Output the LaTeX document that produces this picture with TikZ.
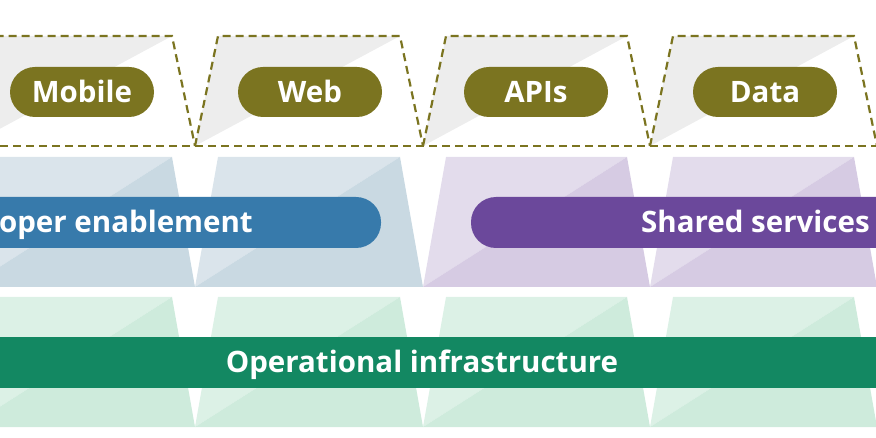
\documentclass[tikz,border=0pt]{standalone}
\usepackage{fontspec}
\setmainfont{Open Sans}
\begin{document}
\begin{tikzpicture}[x=1pt,y=-1pt,
  olivec/.style={draw=olive1,line width=2.2pt,dash pattern=on 8pt off 5pt},
  pilltxt/.style={text=white,font=\bfseries\fontsize{29.5}{29.5}\selectfont,inner sep=0pt},
  pill/.style={fill=olive1,rounded corners=25pt}]
\definecolor{olive1}{HTML}{7B7420}
\definecolor{gray1}{HTML}{EDEDED}
\definecolor{bluelt}{HTML}{DAE4EB}
\definecolor{bluedk}{HTML}{C9D9E2}
\definecolor{purlt}{HTML}{E3DCEC}
\definecolor{purdk}{HTML}{D6CBE3}
\definecolor{grnlt}{HTML}{DCF1E6}
\definecolor{grndk}{HTML}{CEEBDC}
\definecolor{bluepill}{HTML}{377AAB}
\definecolor{purpill}{HTML}{6B489B}
\definecolor{grnband}{HTML}{138862}
\useasboundingbox (0,0) rectangle (876,438);
\clip (0,0) rectangle (876,438);
% column boundaries
\def\cols{-32/195,195/423,423/650,650/877}
% row 1: gray upper-left triangles
\foreach \a/\b in \cols {
  \fill[gray1] (\a,146) -- (\a+23,36) -- (\b-23,36) -- cycle;
}
% row 2
\foreach \a/\b/\lt/\dk in {-32/195/bluelt/bluedk,195/423/bluelt/bluedk,423/650/purlt/purdk,650/877/purlt/purdk} {
  \fill[\lt] (\a,287) -- (\a+23,157) -- (\b-23,157) -- cycle;
  \fill[\dk] (\a,287) -- (\b-23,157) -- (\b,287) -- cycle;
}
% row 3
\foreach \a/\b in \cols {
  \fill[grnlt] (\a,427) -- (\a+23,297) -- (\b-23,297) -- cycle;
  \fill[grndk] (\a,427) -- (\b-23,297) -- (\b,427) -- cycle;
}
% dashed outlines
\foreach \a/\b in \cols {
  \draw[olivec] (\a,146) -- (\a+23,36) -- (\b-23,36) -- (\b,146);
}
\coordinate (dl) at (0,146);
\coordinate (dr) at (876,146);
\draw[olivec] (dl) -- (dr);
% top pills
\fill[pill] (10,67) rectangle (154,117);
\fill[pill] (238,67) rectangle (382,117);
\fill[pill] (464,67) rectangle (608,117);
\fill[pill] (693,67) rectangle (837,117);
\node[pilltxt,anchor=base] (mob) at (82,103) {Mobile};
\node[pilltxt,anchor=base] (web) at (310,103) {Web};
\node[pilltxt,anchor=base] (api) at (536,103) {APIs};
\node[pilltxt,anchor=base] (dat) at (765,103) {Data};
% row 2 pills
\fill[bluepill,rounded corners=25pt] (-300,197) rectangle (381,248);
\fill[purpill,rounded corners=25pt] (471,197) rectangle (1200,248);
\node[pilltxt,anchor=base east] (dev) at (253,233) {Developer enablement};
\node[pilltxt,anchor=base west] (shs) at (641,233) {Shared services};
% row 3 band
\fill[grnband] (-10,337) rectangle (886,388);
\node[pilltxt,anchor=base] (ops) at (422,373) {Operational infrastructure};
\end{tikzpicture}
\end{document}
